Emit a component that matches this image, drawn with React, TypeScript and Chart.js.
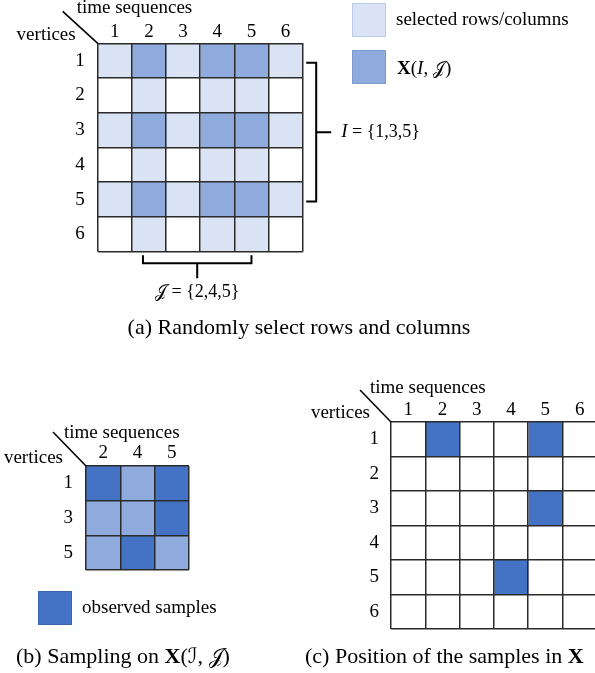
import React, { useEffect, useRef } from 'react';
import { Chart, registerables } from 'chart.js';

Chart.register(...registerables);

// ---------- data ----------
const vertices = ['1', '2', '3', '4', '5', '6'];
const timeSequences = ['1', '2', '3', '4', '5', '6'];
const selectedRows = ['1', '3', '5'];
const selectedCols = ['2', '4', '5'];
const sampleRows = ['1', '1', '3', '5'];
const sampleCols = ['2', '5', '5', '4'];

const rowAxisTitle = 'vertices';
const colAxisTitle = 'time sequences';
const legendSelected = 'selected rows/columns';
const legendObserved = 'observed samples';
const captionA = '(a) Randomly select rows and columns';
const captionB = '(b) Sampling on ';
const captionC = '(c) Position of the samples in ';
const SCRIPT_I = '\u2110';
const SCRIPT_J = '\uD835\uDCA5';

// ---------- styles ----------
const WHITE = '#FFFFFF';
const LIGHT = '#DAE3F3';
const MEDIUM = '#8FAADC';
const DARK = '#4472C4';
const LINE = '#2a2a2a';
const SERIF = "'Liberation Serif', 'Times New Roman', serif";
const MATHF = "'DejaVu Serif', 'DejaVu Sans', serif";
const CAP = 22;
const W = 600;
const H = 673;

Chart.defaults.font.family = SERIF;

const isSample = (r: string, c: string) =>
  sampleRows.some((sr, i) => sr === r && sampleCols[i] === c);

type Seg = { t: string; f: string };

function rich(ctx: CanvasRenderingContext2D, segs: Seg[], x: number, y: number, align: 'left' | 'center' = 'left') {
  ctx.textAlign = 'left';
  ctx.textBaseline = 'alphabetic';
  let total = 0;
  for (const s of segs) {
    ctx.font = s.f;
    total += ctx.measureText(s.t).width;
  }
  let cx = align === 'center' ? x - total / 2 : x;
  for (const s of segs) {
    ctx.font = s.f;
    ctx.fillText(s.t, cx, y);
    cx += ctx.measureText(s.t).width;
  }
}

function swatch(ctx: CanvasRenderingContext2D, x: number, y: number, w: number, h: number, fill: string, stroke: string) {
  ctx.fillStyle = fill;
  ctx.fillRect(x, y, w, h);
  ctx.strokeStyle = stroke;
  ctx.lineWidth = 1;
  ctx.strokeRect(x + 0.5, y + 0.5, w - 1, h - 1);
}

function headers(ctx: CanvasRenderingContext2D, L: number, T: number, tsDx: number, tsDy: number, vDx: number, vDy: number, diag: [number, number]) {
  ctx.fillStyle = '#000';
  ctx.font = `19px ${SERIF}`;
  ctx.textBaseline = 'alphabetic';
  ctx.textAlign = 'left';
  ctx.fillText(colAxisTitle, L + tsDx, T + tsDy);
  ctx.textAlign = 'right';
  ctx.fillText(rowAxisTitle, L + vDx, T + vDy);
  ctx.strokeStyle = '#000';
  ctx.lineWidth = 1.6;
  ctx.beginPath();
  ctx.moveTo(L + diag[0], T + diag[1]);
  ctx.lineTo(L, T);
  ctx.stroke();
}

type Area = { left: number; top: number; right: number; bottom: number };

function buildChart(
  canvas: HTMLCanvasElement,
  rows: string[],
  cols: string[],
  colorOf: (r: string, c: string) => string,
  area: Area,
  rowPad: number,
  colPad: number,
  annotate: (ctx: CanvasRenderingContext2D, chart: any) => void
) {
  const AXW = 40;
  const AXH = 30;
  const tickFont = { family: SERIF, size: 19, lineHeight: 1.2 };
  const grid = { offset: true, color: LINE, lineWidth: 1.5, drawTicks: false, z: 1 };
  return new Chart(canvas, {
    type: 'bar',
    data: {
      labels: rows,
      datasets: cols.map((c) => ({
        label: c,
        data: rows.map(() => 1),
        backgroundColor: rows.map((r) => colorOf(r, c)),
        borderWidth: 0,
        barPercentage: 1,
        categoryPercentage: 1,
        xAxisID: 'x',
        yAxisID: 'y',
      })),
    },
    options: {
      indexAxis: 'y',
      responsive: false,
      maintainAspectRatio: false,
      animation: false,
      events: [],
      layout: {
        padding: {
          left: area.left - AXW,
          top: area.top - AXH,
          right: W - area.right,
          bottom: H - area.bottom,
        },
      },
      plugins: {
        legend: { display: false },
        tooltip: { enabled: false },
        title: { display: false },
      },
      scales: {
        x: { type: 'linear', stacked: true, min: 0, max: cols.length, display: false },
        y: {
          type: 'category',
          stacked: true,
          position: 'left',
          offset: true,
          z: 1,
          grid,
          border: { display: false },
          ticks: { padding: rowPad, color: '#000', font: tickFont },
          afterFit: (s: any) => {
            s.width = AXW;
          },
        },
        xTop: {
          type: 'category',
          labels: cols,
          position: 'top',
          offset: true,
          z: 1,
          grid,
          border: { display: false },
          ticks: { padding: colPad, color: '#000', font: tickFont, maxRotation: 0 },
          afterFit: (s: any) => {
            s.height = AXH;
          },
        },
      },
    } as any,
    plugins: [
      {
        id: 'annot',
        afterDraw(chart: any) {
          const ctx = chart.ctx as CanvasRenderingContext2D;
          ctx.save();
          annotate(ctx, chart);
          ctx.restore();
        },
      },
    ],
  });
}

const colorA = (r: string, c: string) => {
  const inR = selectedRows.includes(r);
  const inC = selectedCols.includes(c);
  if (inR && inC) return MEDIUM;
  if (inR || inC) return LIGHT;
  return WHITE;
};
const colorB = (r: string, c: string) => (isSample(r, c) ? DARK : MEDIUM);
const colorC = (r: string, c: string) => (isSample(r, c) ? DARK : WHITE);

const annotateA = (ctx: CanvasRenderingContext2D, chart: any) => {
  const { left: L, top: T, right: R, bottom: B } = chart.chartArea;
  const ys = chart.scales.y;
  const xs = chart.scales.x;
  headers(ctx, L, T, -21, -30, -22, -3, [-35, -32]);

  // legend
  swatch(ctx, 352, 3, 34, 34, LIGHT, '#bccbe6');
  ctx.fillStyle = '#000';
  ctx.font = `19px ${SERIF}`;
  ctx.textAlign = 'left';
  ctx.fillText(legendSelected, 396, 25);
  swatch(ctx, 352, 50, 34, 34, MEDIUM, '#7f9bd0');
  ctx.fillStyle = '#000';
  rich(ctx, [
    { t: 'X', f: `bold 19px ${SERIF}` },
    { t: '(', f: `19px ${SERIF}` },
    { t: 'I', f: `italic 19px ${SERIF}` },
    { t: ', ', f: `19px ${SERIF}` },
    { t: SCRIPT_J, f: `17px ${MATHF}` },
    { t: ')', f: `19px ${SERIF}` },
  ], 397, 74);

  // right bracket over selected rows
  const y1 = ys.getPixelForValue(vertices.indexOf(selectedRows[0])) + 2;
  const y2 = ys.getPixelForValue(vertices.indexOf(selectedRows[selectedRows.length - 1])) + 2;
  const ym = (y1 + y2) / 2;
  const bx = R + 13.5;
  ctx.strokeStyle = '#000';
  ctx.lineWidth = 2;
  ctx.beginPath();
  ctx.moveTo(bx - 10, y1);
  ctx.lineTo(bx, y1);
  ctx.lineTo(bx, y2);
  ctx.lineTo(bx - 10, y2);
  ctx.moveTo(bx, ym);
  ctx.lineTo(bx + 15, ym);
  ctx.stroke();
  ctx.fillStyle = '#000';
  rich(ctx, [
    { t: 'I', f: `italic 19px ${SERIF}` },
    { t: ' = {' + selectedRows.join(',') + '}', f: `18px ${SERIF}` },
  ], bx + 25, ym + 5);

  // bottom bracket under selected cols
  const x1 = xs.getPixelForValue(timeSequences.indexOf(selectedCols[0]) + 0.5) - 6;
  const x2 = xs.getPixelForValue(timeSequences.indexOf(selectedCols[selectedCols.length - 1]) + 0.5);
  const xm = (x1 + x2) / 2;
  const by = B + 11.5;
  ctx.beginPath();
  ctx.moveTo(x1, by - 8);
  ctx.lineTo(x1, by);
  ctx.lineTo(x2, by);
  ctx.lineTo(x2, by - 8);
  ctx.moveTo(xm, by);
  ctx.lineTo(xm, by + 15);
  ctx.stroke();
  rich(ctx, [
    { t: SCRIPT_J, f: `17px ${MATHF}` },
    { t: ' = {' + selectedCols.join(',') + '}', f: `18px ${SERIF}` },
  ], xm, B + 45, 'center');

  // caption
  ctx.font = `${CAP}px ${SERIF}`;
  ctx.textAlign = 'center';
  ctx.fillText(captionA, 299, 334);
};

const annotateB = (ctx: CanvasRenderingContext2D, chart: any) => {
  const { left: L, top: T } = chart.chartArea;
  headers(ctx, L, T, -22, -28, -23, -3, [-33, -34]);
  swatch(ctx, 38, 591, 34, 34, DARK, '#3a64b2');
  ctx.fillStyle = '#000';
  ctx.font = `19px ${SERIF}`;
  ctx.textAlign = 'left';
  ctx.fillText(legendObserved, 82, 613);
  rich(ctx, [
    { t: captionB, f: `${CAP}px ${SERIF}` },
    { t: 'X', f: `bold ${CAP}px ${SERIF}` },
    { t: '(', f: `${CAP}px ${SERIF}` },
    { t: SCRIPT_I, f: `21px ${MATHF}` },
    { t: ', ', f: `${CAP}px ${SERIF}` },
    { t: SCRIPT_J, f: `21px ${MATHF}` },
    { t: ')', f: `${CAP}px ${SERIF}` },
  ], 16, 663);
};

const annotateC = (ctx: CanvasRenderingContext2D, chart: any) => {
  const { left: L, top: T } = chart.chartArea;
  headers(ctx, L, T, -21, -29, -21, -4, [-31, -32]);
  ctx.fillStyle = '#000';
  rich(ctx, [
    { t: captionC, f: `${CAP}px ${SERIF}` },
    { t: 'X', f: `bold ${CAP}px ${SERIF}` },
  ], 305, 663);
};

export default function App() {
  const refA = useRef<HTMLCanvasElement>(null);
  const refB = useRef<HTMLCanvasElement>(null);
  const refC = useRef<HTMLCanvasElement>(null);

  useEffect(() => {
    const charts = [
      buildChart(refA.current!, vertices, timeSequences, colorA,
        { left: 97.7, top: 43.3, right: 302.7, bottom: 251.7 }, 13, 0, annotateA),
      buildChart(refB.current!, selectedRows, selectedCols, colorB,
        { left: 86, top: 466, right: 189, bottom: 570 }, 13, 2, annotateB),
      buildChart(refC.current!, vertices, timeSequences, colorC,
        { left: 391, top: 422, right: 596.8, bottom: 629 }, 12, 1, annotateC),
    ];
    return () => charts.forEach((c) => c.destroy());
  }, []);

  const cs: React.CSSProperties = { position: 'absolute', left: 0, top: 0, display: 'block' };
  return (
    <div style={{ position: 'absolute', left: 0, top: 0, width: 595, height: 673, overflow: 'hidden', background: '#fff' }}>
      <canvas ref={refA} width={W} height={H} style={cs} />
      <canvas ref={refB} width={W} height={H} style={cs} />
      <canvas ref={refC} width={W} height={H} style={cs} />
    </div>
  );
}
